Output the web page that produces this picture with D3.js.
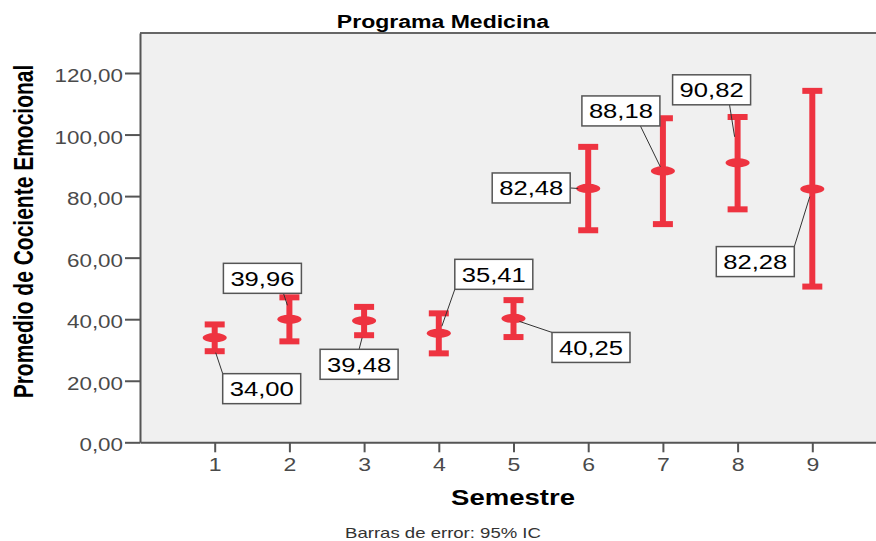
<!DOCTYPE html>
<html>
<head>
<meta charset="utf-8">
<script src="https://cdn.jsdelivr.net/npm/d3@7"></script>
<style>
	body { margin: 0; background: #fff; overflow: hidden; }
	svg { display: block; font-family: "Liberation Sans", Arial, sans-serif; }
</style>
</head>
<body>
<div id="chart"></div>
<script>
// data
var semestres = [1, 2, 3, 4, 5, 6, 7, 8, 9]
var medias = [34.00, 39.96, 39.48, 35.41, 40.25, 82.48, 88.18, 90.82, 82.28]
var icInf = [29.6, 32.8, 34.8, 28.9, 34.2, 68.9, 70.9, 75.7, 50.6]
var icSup = [38.3, 47.1, 44.0, 41.9, 46.2, 96.0, 105.3, 105.7, 114.2]
var yTicks = [0, 20, 40, 60, 80, 100, 120]

// where each value label sits, relative to its mean: box dx, dy, leader anchor on box (fx, fy), leader end dx, dy
var labelLayout = [
	[8, 36, 0, 0, 1, 15],
	[-66, -56, 0.77, 1, -2, -14],
	[-44, 28.5, 0.5, 0, -2, 17],
	[16, -74, 0, 1, 3, -7],
	[38.5, 14, 0, 0, 6, 3],
	[-96, -15.5, 1, 0.5, -10, 0],
	[-81, -75, 0.75, 1, -2.5, -4],
	[-65, -88, 0.73, 1, -3, -26],
	[-96, 57.5, 1, 0, -2.5, 7.5]
]

var width = 876
var height = 541
var sx = 1.28 // the picture is stretched sideways, text too
var red = '#ee3340'
var axisColor = '#555'

var locale = d3.formatLocale({ decimal: ',', thousands: '.', grouping: [3], currency: ['', ''] })
var fmt = locale.format('.2f')

var svg = d3.select('#chart').append('svg')
	.attr('width', width)
	.attr('height', height)

var x = d3.scaleLinear().domain([0, 10]).range([140, 887])
var y = d3.scaleLinear().domain([0, 133]).range([442.3, 33])

// plot area
svg.append('rect')
	.attr('x', x(0))
	.attr('y', y(133))
	.attr('width', x(10) - x(0))
	.attr('height', y(0) - y(133))
	.attr('fill', '#f0f0f0')

svg.append('line')
	.attr('x1', x(0)).attr('x2', x(10))
	.attr('y1', y(133)).attr('y2', y(133))
	.attr('stroke', '#666').attr('stroke-width', 2)

// axes
var yAxis = svg.append('g')
	.attr('transform', 'translate(' + x(0) + ',0)')
	.call(d3.axisLeft(y).tickValues(yTicks).tickSize(15).tickSizeOuter(0).tickFormat(fmt))

var xAxis = svg.append('g')
	.attr('transform', 'translate(0,' + y(0) + ')')
	.call(d3.axisBottom(x).tickValues(semestres).tickSize(10).tickSizeOuter(0).tickFormat(d3.format('d')))

svg.selectAll('.domain, .tick line')
	.attr('stroke', axisColor)
	.attr('stroke-width', 2)

yAxis.selectAll('.tick text')
	.attr('x', -17 / sx)
	.attr('dy', 8.5)
	.attr('transform', 'scale(' + sx + ',1)')
	.attr('fill', '#4a4a4a')
	.style('font-size', '17.5px')
	.style('font-family', '"Liberation Sans", Arial, sans-serif')

xAxis.selectAll('.tick text')
	.attr('y', 16)
	.attr('transform', 'scale(' + sx + ',1)')
	.attr('fill', '#4a4a4a')
	.style('font-size', '18px')
	.style('font-family', '"Liberation Sans", Arial, sans-serif')

// error bars
var bars = svg.append('g').selectAll('.bar')
	.data(semestres)
	.enter().append('g')
		.attr('class', 'bar')

bars.append('line')
	.attr('x1', function(d) { return x(d) })
	.attr('x2', function(d) { return x(d) })
	.attr('y1', function(d, i) { return y(icSup[i]) })
	.attr('y2', function(d, i) { return y(icInf[i]) })
	.attr('stroke', red)
	.attr('stroke-width', 6)

bars.selectAll('.cap')
	.data(function(d, i) { return [[d, icSup[i]], [d, icInf[i]]] })
	.enter().append('line')
		.attr('class', 'cap')
		.attr('x1', function(d) { return x(d[0]) - 10 })
		.attr('x2', function(d) { return x(d[0]) + 10 })
		.attr('y1', function(d) { return y(d[1]) })
		.attr('y2', function(d) { return y(d[1]) })
		.attr('stroke', red)
		.attr('stroke-width', 6)

bars.append('ellipse')
	.attr('cx', function(d) { return x(d) })
	.attr('cy', function(d, i) { return y(medias[i]) })
	.attr('rx', 12)
	.attr('ry', 4.6)
	.attr('fill', red)

// value labels
var boxW = 78
var boxH = 30
var labels = svg.append('g').selectAll('.lab')
	.data(semestres)
	.enter().append('g')
		.attr('class', 'lab')

function box(i) {
	var l = labelLayout[i]
	var px = x(semestres[i])
	var py = y(medias[i])
	return { x: px + l[0], y: py + l[1], ax: px + l[0] + l[2] * boxW, ay: py + l[1] + l[3] * boxH, tx: px + l[4], ty: py + l[5] }
}

labels.append('line')
	.attr('x1', function(d, i) { return box(i).ax })
	.attr('y1', function(d, i) { return box(i).ay })
	.attr('x2', function(d, i) { return box(i).tx })
	.attr('y2', function(d, i) { return box(i).ty })
	.attr('stroke', '#333')
	.attr('stroke-width', 1)

labels.append('rect')
	.attr('x', function(d, i) { return box(i).x })
	.attr('y', function(d, i) { return box(i).y })
	.attr('width', boxW)
	.attr('height', boxH)
	.attr('fill', '#fff')
	.attr('stroke', '#555')
	.attr('stroke-width', 1.5)

labels.append('text')
	.attr('transform', function(d, i) {
		var b = box(i)
		return 'translate(' + (b.x + boxW / 2) + ',' + (b.y + 22.5) + ') scale(' + sx + ',1)'
	})
	.attr('text-anchor', 'middle')
	.style('font-size', '20px')
	.attr('fill', '#000')
	.text(function(d, i) { return fmt(medias[i]) })

// titles
svg.append('text')
	.attr('transform', 'translate(443,28.3) scale(' + sx + ',1)')
	.attr('text-anchor', 'middle')
	.style('font-size', '18px')
	.style('font-weight', 'bold')
	.text('Programa Medicina')

svg.append('text')
	.attr('transform', 'translate(33,231.5) scale(' + sx + ',1) rotate(-90)')
	.attr('text-anchor', 'middle')
	.style('font-size', '21px')
	.style('font-weight', 'bold')
	.text('Promedio de Cociente Emocional')

svg.append('text')
	.attr('transform', 'translate(513,505) scale(' + sx + ',1)')
	.attr('text-anchor', 'middle')
	.style('font-size', '21.5px')
	.style('font-weight', 'bold')
	.text('Semestre')

svg.append('text')
	.attr('transform', 'translate(443,538) scale(' + sx + ',1)')
	.attr('text-anchor', 'middle')
	.style('font-size', '14.5px')
	.attr('fill', '#333')
	.text('Barras de error: 95% IC')
</script>
</body>
</html>
